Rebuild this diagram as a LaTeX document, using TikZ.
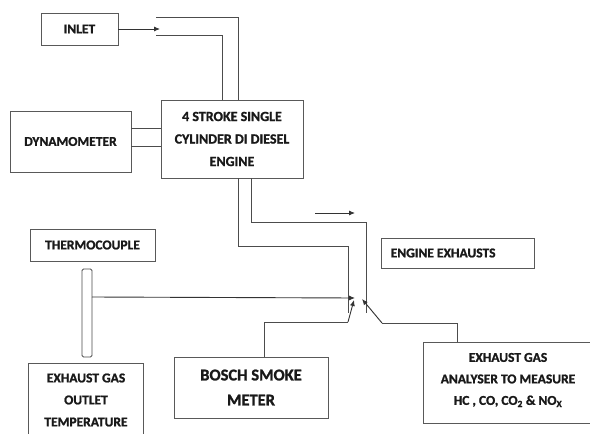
\documentclass[tikz,border=0pt]{standalone}
\usepackage{fontspec}
\setmainfont{Carlito}[BoldFeatures={FakeBold=1.2}]
\usetikzlibrary{arrows.meta}
\begin{document}
\begin{tikzpicture}[x=1pt,y=-1pt,
  box/.style={draw=black!65,line width=0.9pt,inner sep=0pt,font=\fontsize{13.5}{22}\selectfont\bfseries,align=center,text=black!90},
  txt/.style={inner sep=0pt,font=\fontsize{13.5}{22}\selectfont\bfseries,align=center,text=black!90},
  pipe/.style={draw=black!70,line width=0.9pt},
  arr/.style={draw=black!80,line width=0.9pt,-{Latex[length=6pt,width=5pt]}}]
\useasboundingbox (0,0) rectangle (590,434);
\clip (0,0) rectangle (590,434);
\fill[white] (0,0) rectangle (590,434);
% boxes
\node[box,minimum width=77pt,minimum height=32pt] (inlet) at (79.5,29) {INLET};
\node[box,minimum width=121pt,minimum height=61pt] (dyn) at (70.5,141.5) {DYNAMOMETER};
\node[box,minimum width=142pt,minimum height=78pt,font=\fontsize{14}{22.5}\selectfont\bfseries] (eng) at (232,139) {4 STROKE SINGLE\\CYLINDER DI DIESEL\\ENGINE};
\node[box,minimum width=153pt,minimum height=30pt] (exh) at (457.5,253) {};
\node[txt,anchor=west] (exhtxt) at ([xshift=10pt]exh.west) {ENGINE EXHAUSTS};
\node[box,minimum width=125pt,minimum height=32pt] (tc) at (92.5,245) {THERMOCOUPLE};
\draw[pipe,rounded corners=1.5pt] (82,269) rectangle (92,357);
\coordinate (rod) at (92,297);
\node[minimum width=115pt,minimum height=80pt,inner sep=0pt,anchor=north west] (egot) at (28.5,363) {};
\draw[pipe,draw=black!65] (egot.south west) -- (egot.north west) -- (egot.north east) -- (egot.south east);
\node[txt,font=\fontsize{13.5}{22}\selectfont\bfseries] (egottxt) at (86,400) {EXHAUST GAS\\OUTLET\\TEMPERATURE};
\node[box,minimum width=154pt,minimum height=61pt,font=\fontsize{16.5}{25}\selectfont\bfseries] (bosch) at (251,387.5) {BOSCH SMOKE\\METER};
\node[minimum width=175pt,minimum height=81pt,inner sep=0pt,anchor=north west] (ana) at (423,342) {};
\draw[pipe,draw=black!65] (ana.north east) -- (ana.north west) -- (ana.south west) -- (ana.south east);
\node[txt,font=\fontsize{13.5}{21.5}\selectfont\bfseries] (anatxt) at (508,380) {EXHAUST GAS\\ANALYSER TO MEASURE\\HC , CO, CO\textsubscript{2} \& NO\textsubscript{X}};
% inlet
\draw[arr] (inlet.east) -- (160,29);
\draw[pipe] (156,17.5) -| (238,100);
\draw[pipe] (156,35.5) -| (222,100);
% dynamometer shafts
\draw[pipe] (dyn.east |- 0,128) -- (eng.west |- 0,128);
\draw[pipe] (dyn.east |- 0,146) -- (eng.west |- 0,146);
% exhaust pipes
\draw[pipe] (238,178) |- (348,246) -- (348,313);
\draw[pipe] (251,178) |- (366,222.5) -- (366,313);
\draw[arr] (315,213) -- (355,213);
% thermocouple line
\coordinate (m1) at (355,298);
\coordinate (m2) at (362,299);
\draw[arr] (rod) -- (m1);
% bosch
\draw[pipe] (bosch.north -| 264,0) |- (348,322);
\draw[arr] (348,322) -- (354,300);
% analyser
\draw[pipe] (ana.north -| 457,0) |- (382,323);
\draw[arr] (382,323) -- (m2);
\end{tikzpicture}
\end{document}
